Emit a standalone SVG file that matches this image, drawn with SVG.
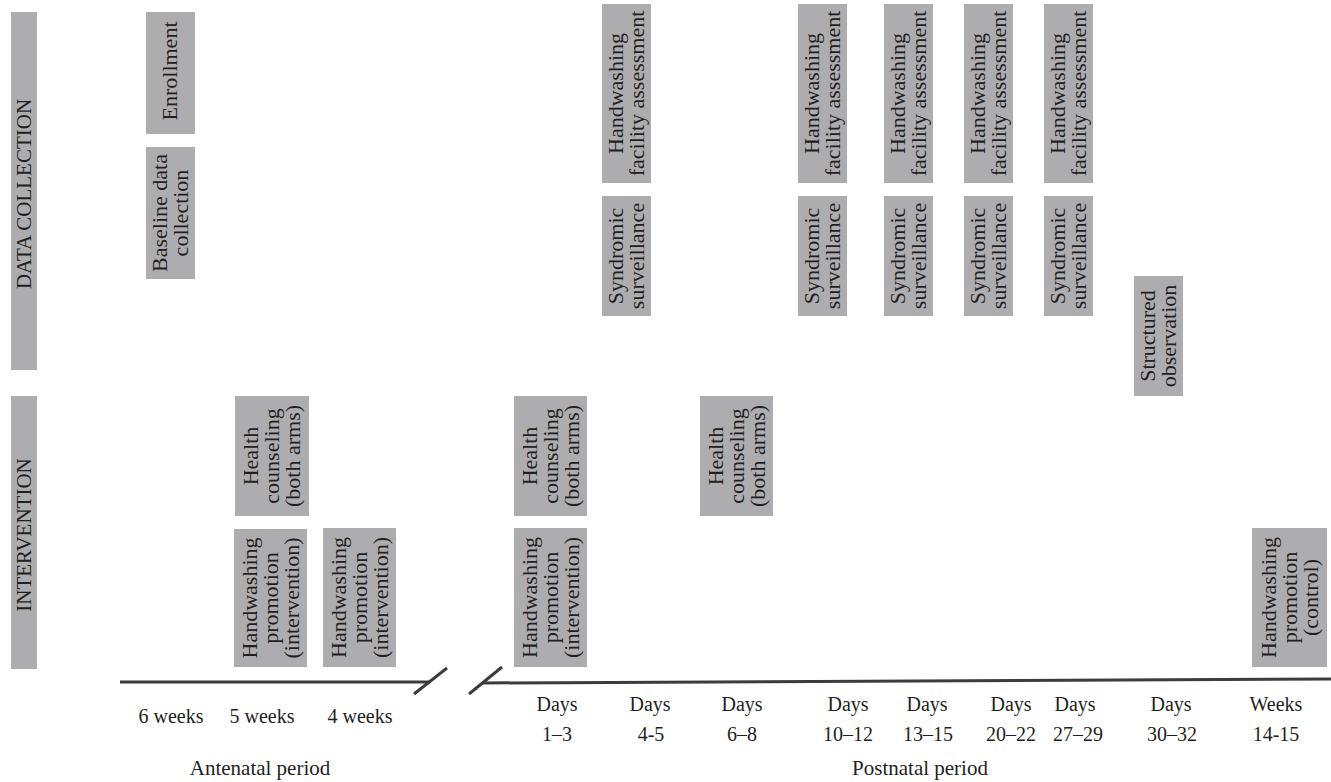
<svg xmlns="http://www.w3.org/2000/svg" width="1331" height="782" viewBox="0 0 1331 782">
<style>
.box{fill:#adacaf;}
.bt{font-family:"Liberation Serif","Times New Roman",serif;font-size:22px;fill:#231f20;text-anchor:middle;}
.side{font-family:"Liberation Serif","Times New Roman",serif;font-size:21px;fill:#231f20;text-anchor:middle;}
.lbl{font-family:"Liberation Serif","Times New Roman",serif;font-size:20px;fill:#231f20;text-anchor:middle;}
.per{font-family:"Liberation Serif","Times New Roman",serif;font-size:21px;fill:#231f20;text-anchor:middle;}
.axis{stroke:#3c3c3c;stroke-width:3;fill:none;}
</style>
<rect width="1331" height="782" fill="#ffffff"/>
<g id="side-data-collection">
<rect class="box" x="11" y="12" width="26" height="358"/>
<text class="side" transform="translate(24 194) rotate(-90)" y="7">DATA COLLECTION</text>
</g>
<g id="side-intervention">
<rect class="box" x="11" y="396" width="26" height="273"/>
<text class="side" transform="translate(24 535) rotate(-90)" y="7">INTERVENTION</text>
</g>
<g id="enrollment">
<rect class="box" x="146" y="12" width="49" height="122"/>
<text class="bt" transform="translate(170.5 71) rotate(-90)" y="6">Enrollment</text>
</g>
<g id="baseline">
<rect class="box" x="146" y="147" width="49" height="132"/>
<text class="bt" transform="translate(170.5 213) rotate(-90)"><tspan x="0" y="-3.5">Baseline data</tspan><tspan x="0" y="17.5">collection</tspan></text>
</g>
<g id="facility-1">
<rect class="box" x="602" y="4" width="49" height="179"/>
<text class="bt" transform="translate(626.5 93.5) rotate(-90)"><tspan x="0" y="-3.5">Handwashing</tspan><tspan x="0" y="17.5">facility assessment</tspan></text>
</g>
<g id="facility-2">
<rect class="box" x="798" y="4" width="49" height="179"/>
<text class="bt" transform="translate(822.5 93.5) rotate(-90)"><tspan x="0" y="-3.5">Handwashing</tspan><tspan x="0" y="17.5">facility assessment</tspan></text>
</g>
<g id="facility-3">
<rect class="box" x="884" y="4" width="49" height="179"/>
<text class="bt" transform="translate(908.5 93.5) rotate(-90)"><tspan x="0" y="-3.5">Handwashing</tspan><tspan x="0" y="17.5">facility assessment</tspan></text>
</g>
<g id="facility-4">
<rect class="box" x="964" y="4" width="49" height="179"/>
<text class="bt" transform="translate(988.5 93.5) rotate(-90)"><tspan x="0" y="-3.5">Handwashing</tspan><tspan x="0" y="17.5">facility assessment</tspan></text>
</g>
<g id="facility-5">
<rect class="box" x="1044" y="4" width="49" height="179"/>
<text class="bt" transform="translate(1068.5 93.5) rotate(-90)"><tspan x="0" y="-3.5">Handwashing</tspan><tspan x="0" y="17.5">facility assessment</tspan></text>
</g>
<g id="syndromic-1">
<rect class="box" x="602" y="196" width="49" height="120"/>
<text class="bt" transform="translate(626.5 256) rotate(-90)"><tspan x="0" y="-3.5">Syndromic</tspan><tspan x="0" y="17.5">surveillance</tspan></text>
</g>
<g id="syndromic-2">
<rect class="box" x="798" y="196" width="49" height="120"/>
<text class="bt" transform="translate(822.5 256) rotate(-90)"><tspan x="0" y="-3.5">Syndromic</tspan><tspan x="0" y="17.5">surveillance</tspan></text>
</g>
<g id="syndromic-3">
<rect class="box" x="884" y="196" width="49" height="120"/>
<text class="bt" transform="translate(908.5 256) rotate(-90)"><tspan x="0" y="-3.5">Syndromic</tspan><tspan x="0" y="17.5">surveillance</tspan></text>
</g>
<g id="syndromic-4">
<rect class="box" x="964" y="196" width="49" height="120"/>
<text class="bt" transform="translate(988.5 256) rotate(-90)"><tspan x="0" y="-3.5">Syndromic</tspan><tspan x="0" y="17.5">surveillance</tspan></text>
</g>
<g id="syndromic-5">
<rect class="box" x="1044" y="196" width="49" height="120"/>
<text class="bt" transform="translate(1068.5 256) rotate(-90)"><tspan x="0" y="-3.5">Syndromic</tspan><tspan x="0" y="17.5">surveillance</tspan></text>
</g>
<g id="structured-observation">
<rect class="box" x="1134" y="276" width="49" height="120"/>
<text class="bt" transform="translate(1158.5 336) rotate(-90)"><tspan x="0" y="-3.5">Structured</tspan><tspan x="0" y="17.5">observation</tspan></text>
</g>
<g id="counseling-1">
<rect class="box" x="235" y="396" width="74" height="120"/>
<text class="bt" transform="translate(272 456) rotate(-90)"><tspan x="0" y="-14">Health</tspan><tspan x="0" y="7">counseling</tspan><tspan x="0" y="28">(both arms)</tspan></text>
</g>
<g id="counseling-2">
<rect class="box" x="514" y="396" width="73" height="120"/>
<text class="bt" transform="translate(550.5 456) rotate(-90)"><tspan x="0" y="-14">Health</tspan><tspan x="0" y="7">counseling</tspan><tspan x="0" y="28">(both arms)</tspan></text>
</g>
<g id="counseling-3">
<rect class="box" x="700" y="396" width="73" height="120"/>
<text class="bt" transform="translate(736.5 456) rotate(-90)"><tspan x="0" y="-14">Health</tspan><tspan x="0" y="7">counseling</tspan><tspan x="0" y="28">(both arms)</tspan></text>
</g>
<g id="promotion-1">
<rect class="box" x="234" y="529" width="73" height="138"/>
<text class="bt" transform="translate(270.5 598) rotate(-90)"><tspan x="0" y="-14">Handwashing</tspan><tspan x="0" y="7">promotion</tspan><tspan x="0" y="28">(intervention)</tspan></text>
</g>
<g id="promotion-2">
<rect class="box" x="323" y="528" width="73" height="139"/>
<text class="bt" transform="translate(359.5 597.5) rotate(-90)"><tspan x="0" y="-14">Handwashing</tspan><tspan x="0" y="7">promotion</tspan><tspan x="0" y="28">(intervention)</tspan></text>
</g>
<g id="promotion-3">
<rect class="box" x="514" y="528" width="73" height="139"/>
<text class="bt" transform="translate(550.5 597.5) rotate(-90)"><tspan x="0" y="-14">Handwashing</tspan><tspan x="0" y="7">promotion</tspan><tspan x="0" y="28">(intervention)</tspan></text>
</g>
<g id="promotion-control">
<rect class="box" x="1252" y="528" width="75" height="139"/>
<text class="bt" transform="translate(1289.5 597.5) rotate(-90)"><tspan x="0" y="-14">Handwashing</tspan><tspan x="0" y="7">promotion</tspan><tspan x="0" y="28">(control)</tspan></text>
</g>
<g id="timeline">
<path class="axis" d="M120 682 H430"/>
<path class="axis" d="M414 694 L447 668"/>
<path class="axis" d="M469 694 L502 667"/>
<path class="axis" d="M482 683 L1331 679"/>
</g>
<g id="labels">
<text class="lbl" x="171" y="723">6 weeks</text>
<text class="lbl" x="262" y="723">5 weeks</text>
<text class="lbl" x="360" y="723">4 weeks</text>
<text class="per" x="260" y="775">Antenatal period</text>
<text class="lbl" x="557" y="711">Days</text><text class="lbl" x="557" y="741">1–3</text>
<text class="lbl" x="650" y="711">Days</text><text class="lbl" x="651" y="741">4-5</text>
<text class="lbl" x="742" y="711">Days</text><text class="lbl" x="742" y="741">6–8</text>
<text class="lbl" x="848" y="711">Days</text><text class="lbl" x="848" y="741">10–12</text>
<text class="lbl" x="927" y="711">Days</text><text class="lbl" x="928" y="741">13–15</text>
<text class="lbl" x="1011" y="711">Days</text><text class="lbl" x="1011" y="741">20–22</text>
<text class="lbl" x="1075" y="711">Days</text><text class="lbl" x="1078" y="741">27–29</text>
<text class="lbl" x="1171" y="711">Days</text><text class="lbl" x="1172" y="741">30–32</text>
<text class="lbl" x="1276" y="711">Weeks</text><text class="lbl" x="1276" y="741">14-15</text>
<text class="per" x="920" y="775">Postnatal period</text>
</g>
</svg>
